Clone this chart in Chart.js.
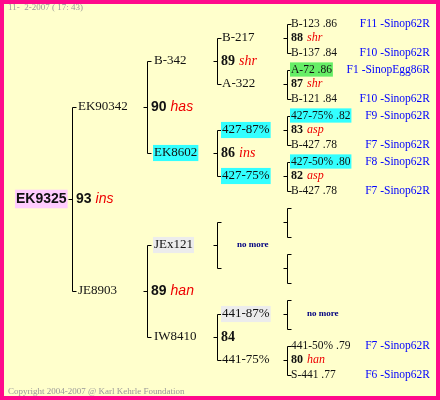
<!DOCTYPE html>
<html><head><meta charset="utf-8">
<script src="https://cdn.jsdelivr.net/npm/chart.js@4"></script>
<style>html,body{margin:0;padding:0;background:#fff}canvas{display:block}</style>
</head><body>
<canvas id="c" width="440" height="400"></canvas>
<script>
// ---- data ----
const gen0Names = ['EK9325'];
const gen0Mids = [['93','ins']];
const gen1Names = ['EK90342','JE8903'];
const gen1Mids = [['90','has'],['89','han']];
const gen2Names = ['B-342','EK8602','JEx121','IW8410'];
const gen2Mids = [['89','shr'],['86','ins'],'nomore',['84','']];
const gen3Names = ['B-217','A-322','427-87%','427-75%','','','441-87%','441-75%'];
const gen3Mids = [['88','shr'],['87','shr'],['83','asp'],['82','asp'],'empty','empty','nomore',['80','han']];
const gen4Names = ['B-123 .86','B-137 .84','A-72 .86','B-121 .84','427-75% .82','B-427 .78','427-50% .80','B-427 .78','','','','','','','441-50% .79','S-441 .77'];
const gen4Notes = ['F11 -Sinop62R','F10 -Sinop62R','F1 -SinopEgg86R','F10 -Sinop62R','F9 -Sinop62R','F7 -Sinop62R','F8 -Sinop62R','F7 -Sinop62R','','','','','','','F7 -Sinop62R','F6 -Sinop62R'];
const dateText = '11-  2-2007 ( 17: 43)';
const copyText = 'Copyright 2004-2007 @ Karl Kehrle Foundation';
// ---- style ----
const bgMap = {'EK9325':'#ffccff','EK8602':'#33ffff','JEx121':'#ececec','427-87%':'#33ffff','427-75%':'#33ffff',
  'A-72 .86':'#66ee66','427-75% .82':'#33ffff','427-50% .80':'#33ffff','441-87%':'#ececec'};
const names=[gen0Names,gen1Names,gen2Names,gen3Names,gen4Names];
const mids=[gen0Mids,gen1Mids,gen2Mids,gen3Mids];
const bracketX=[72,147,217,287];
const nameX=[16,78,154,222,291];
const spread=[92,46,23,14.5];
const ys=[[199]];
for(let g=0;g<4;g++){ys.push([]);ys[g].forEach(y=>{ys[g+1].push(y-spread[g],y+spread[g]);});}
const pts=[];names.forEach((arr,g)=>arr.forEach((n,i)=>pts.push({x:nameX[g],y:ys[g][i]})));
const SERIF='"Liberation Serif","DejaVu Serif",serif';
const SANS='"Liberation Sans",Arial,sans-serif';
const drawer={id:'ped',afterDatasetsDraw(ch){
  const c=ch.ctx,X=v=>ch.scales.x.getPixelForValue(v),Y=v=>ch.scales.y.getPixelForValue(v);
  c.save();
  c.fillStyle='#ffffcc';c.fillRect(X(0),Y(0),X(440)-X(0),Y(400)-Y(0));
  c.strokeStyle='#ff0a8c';c.lineWidth=4;c.strokeRect(X(2),Y(2),X(438)-X(2),Y(398)-Y(2));
  c.textBaseline='middle';
  c.font='9px '+SERIF;c.fillStyle='#999';c.fillText(dateText,X(8),Y(8));c.fillText(copyText,X(8),Y(392));
  c.strokeStyle='#000';c.lineWidth=1;
  const line=(x1,y1,x2,y2)=>{c.beginPath();c.moveTo(Math.round(X(x1))+0.5,Math.round(Y(y1))+0.5);c.lineTo(Math.round(X(x2))+0.5,Math.round(Y(y2))+0.5);c.stroke();};
  for(let g=0;g<4;g++){
    ys[g].forEach((y,i)=>{
      const m=mids[g][i];const bx=bracketX[g];
      if(names[g][i]===''&&g<3)return;
      const y1=ys[g+1][2*i],y2=ys[g+1][2*i+1];
      line(bx,y1,bx,y2);line(bx,y1,bx+4,y1);line(bx,y2,bx+4,y2);line(bx-4,y,bx,y);
      if(m==='nomore'){c.font='bold 9px '+SERIF;c.fillStyle='#000080';c.fillText('no more',X(bx+20),Y(y));}
      else if(Array.isArray(m)){
        const sans=g<2;const fs=g===3?12:(sans?14:14);
        const fam=sans?SANS:SERIF;
        c.font='bold '+fs+'px '+fam;c.fillStyle='#111';
        const tx=X(bx+4);c.fillText(m[0],tx,Y(y));const w=c.measureText(m[0]).width;
        c.font='italic '+fs+'px '+fam;c.fillStyle='#ee0000';c.fillText(m[1],tx+w+4,Y(y));
      }
    });
  }
  names.forEach((arr,g)=>arr.forEach((n,i)=>{
    if(!n)return;const y=ys[g][i];
    const fs=g===0?15:(g===4?11.5:13);
    c.font=g===0?('bold 14px '+SANS):(fs+'px '+SERIF);
    const w=c.measureText(n).width,x=X(nameX[g]);
    if(bgMap[n]){c.fillStyle=bgMap[n];c.fillRect(x-1,Y(y)-fs*0.62,w+2,fs*1.24);}
    c.fillStyle='#111';c.fillText(n,x,Y(y));
    if(g===4&&gen4Notes[i]){c.font='11.5px '+SERIF;c.fillStyle='#0000ff';c.textAlign='right';c.fillText(gen4Notes[i],X(430),Y(y));c.textAlign='left';}
  }));
  c.restore();
}};
new Chart(document.getElementById('c'),{type:'scatter',
  data:{datasets:[{data:pts,pointRadius:0,showLine:false}]},
  options:{responsive:false,animation:false,events:[],layout:{padding:0},
    plugins:{legend:{display:false},tooltip:{enabled:false}},
    scales:{x:{type:'linear',min:0,max:440,display:false},y:{type:'linear',min:0,max:400,reverse:true,display:false}}},
  plugins:[drawer]});
</script></body></html>
